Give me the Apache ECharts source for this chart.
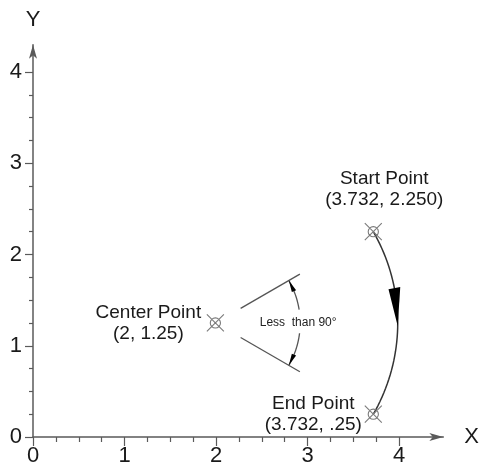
<!DOCTYPE html>
<html>
<head>
<meta charset="utf-8">
<script src="https://cdn.jsdelivr.net/npm/echarts@6/dist/echarts.min.js"></script>
<style>
  html, body { margin: 0; padding: 0; background: #fff; }
  #chart { width: 482px; height: 467px; }
</style>
</head>
<body>
<div id="chart"></div>
<script>
// points shown on the drawing
const pointNames = ["Start Point", "End Point", "Center Point"];
const pointX = [3.732, 3.732, 2];
const pointY = [2.25, 0.25, 1.25];
const pointText = ["(3.732, 2.250)", "(3.732, .25)", "(2, 1.25)"];

// arc: center x, center y, radius, from angle, to angle, arrow from, arrow to (degrees)
const arcRows = [[2, 1.25, 2, 30, -30, 11, -1]];

// angle dimension: center x, center y, ray start r, ray end r, dim r, ray angle, gap angle
const angleRows = [
  [2, 1.25, 0.32, 1.07, 0.93, 30, 9],
  [2, 1.25, 0.32, 1.07, 0.93, -30, -7]
];
const angleNote = "Less  than 90°";

// axis ranges
const xTickMax = 4, yTickMax = 4;
const xLineMax = 4.5, yLineMax = 4.3;

const PX = 91.5, PY = 91.25; // px per unit
const ox = 33, oy = 437;     // origin in px

const FONT = "Liberation Sans, Arial, sans-serif";
const AXIS_C = "#5a5a5a";
const TEXT_C = "#1a1a1a";

const chart = echarts.init(document.getElementById("chart"));

function rad(d) { return d * Math.PI / 180; }
function onArc(c, s, r, a) {
  return [c[0] + s[0] * r * Math.cos(rad(a)), c[1] - s[1] * r * Math.sin(rad(a))];
}
function arcPoints(c, s, r, a0, a1) {
  const pts = [];
  const n = 40;
  for (let i = 0; i <= n; i++) pts.push(onArc(c, s, r, a0 + (a1 - a0) * i / n));
  return pts;
}
// px per 1 data unit in both directions
function unit(api) { return api.size([1, 1]); }

const markerPath = "path://M0,0L20,20M20,0L0,20M16,10A6,6,0,1,1,4,10A6,6,0,1,1,16,10Z";

const labelOffsets = {
  "Start Point": [11, -42],
  "End Point": [-60, 0],
  "Center Point": [-67, 0]
};

const lineAxisCommon = {
  axisTick: { show: false },
  axisLabel: { show: false },
  splitLine: { show: false },
  axisLine: {
    show: true,
    symbol: ["none", "arrow"],
    symbolSize: [6, 14],
    lineStyle: { color: AXIS_C, width: 1.5 }
  },
  nameTextStyle: { fontSize: 22, color: TEXT_C, fontFamily: FONT }
};

const tickAxisCommon = {
  axisLine: { show: false },
  splitLine: { show: false },
  axisLabel: { fontSize: 22, color: TEXT_C, fontFamily: FONT },
  axisTick: { length: 9, lineStyle: { color: AXIS_C, width: 1.2 } },
  minorTick: { show: true, splitNumber: 4, length: 5, lineStyle: { color: AXIS_C, width: 1.2 } }
};

chart.setOption({
  animation: false,
  backgroundColor: "#fff",
  grid: [
    { left: ox, top: oy - yLineMax * PY, width: xLineMax * PX, height: yLineMax * PY },
    { left: ox, top: oy - yTickMax * PY, width: xTickMax * PX, height: yTickMax * PY }
  ],
  xAxis: [
    Object.assign({}, lineAxisCommon, {
      type: "value", gridIndex: 0, min: 0, max: xLineMax,
      name: "X", nameLocation: "end", nameGap: 21
    }),
    Object.assign({}, tickAxisCommon, {
      type: "value", gridIndex: 1, min: 0, max: xTickMax, interval: 1,
      axisLabel: Object.assign({}, tickAxisCommon.axisLabel, { margin: 8 })
    })
  ],
  yAxis: [
    Object.assign({}, lineAxisCommon, {
      type: "value", gridIndex: 0, min: 0, max: yLineMax,
      name: "Y", nameLocation: "end", nameGap: 14
    }),
    Object.assign({}, tickAxisCommon, {
      type: "value", gridIndex: 1, min: 0, max: yTickMax, interval: 1,
      axisTick: Object.assign({}, tickAxisCommon.axisTick, { length: 8 }),
      minorTick: Object.assign({}, tickAxisCommon.minorTick, { length: 4 }),
      axisLabel: Object.assign({}, tickAxisCommon.axisLabel, { margin: 11 })
    })
  ],
  series: [
    {
      // the arc with its direction arrow
      type: "custom",
      xAxisIndex: 0, yAxisIndex: 0,
      data: arcRows,
      renderItem: function (params, api) {
        const c = api.coord([api.value(0), api.value(1)]);
        const s = unit(api);
        const r = api.value(2);
        const aFrom = api.value(5), aTo = api.value(6);
        const base = onArc(c, s, r, aFrom);
        const dir = [Math.cos(rad(aFrom)), -Math.sin(rad(aFrom))];
        const half = 6;
        return {
          type: "group",
          children: [
            {
              type: "polyline",
              shape: { points: arcPoints(c, s, r, api.value(3), api.value(4)) },
              style: { stroke: "#333", lineWidth: 1.5, fill: null }
            },
            {
              type: "polygon",
              shape: {
                points: [
                  [base[0] - dir[0] * half, base[1] - dir[1] * half],
                  [base[0] + dir[0] * half, base[1] + dir[1] * half],
                  onArc(c, s, r, aTo)
                ]
              },
              style: { fill: "#000" }
            }
          ]
        };
      }
    },
    {
      // angle dimension rays, arcs and arrowheads
      type: "custom",
      xAxisIndex: 0, yAxisIndex: 0,
      data: angleRows,
      renderItem: function (params, api) {
        const c = api.coord([api.value(0), api.value(1)]);
        const s = unit(api);
        const r0 = api.value(2), r1 = api.value(3), rd = api.value(4);
        const a = api.value(5), gap = api.value(6);
        const sign = a > 0 ? 1 : -1;
        const tip = onArc(c, s, rd, a);
        const baseA = a - sign * 8;
        const base = onArc(c, s, rd, baseA);
        const dir = [Math.cos(rad(baseA)), -Math.sin(rad(baseA))];
        const half = 2.3;
        const p0 = onArc(c, s, r0, a), p1 = onArc(c, s, r1, a);
        const children = [
          {
            type: "line",
            shape: { x1: p0[0], y1: p0[1], x2: p1[0], y2: p1[1] },
            style: { stroke: "#555", lineWidth: 1.3 }
          },
          {
            type: "polyline",
            shape: { points: arcPoints(c, s, rd, a, gap) },
            style: { stroke: "#555", lineWidth: 1.3, fill: null }
          },
          {
            type: "polygon",
            shape: {
              points: [
                [base[0] - dir[0] * half, base[1] - dir[1] * half],
                [base[0] + dir[0] * half, base[1] + dir[1] * half],
                tip
              ]
            },
            style: { fill: "#000" }
          }
        ];
        if (params.dataIndex === 0) {
          const mid = onArc(c, s, rd, 0);
          children.push({
            type: "text",
            x: mid[0] - 2, y: mid[1],
            style: {
              text: angleNote, fill: "#222", fontSize: 12, fontFamily: FONT,
              align: "center", verticalAlign: "middle"
            }
          });
        }
        return { type: "group", children: children };
      }
    },
    {
      // point markers and their captions
      type: "scatter",
      xAxisIndex: 0, yAxisIndex: 0,
      symbol: markerPath,
      symbolSize: 17,
      itemStyle: { color: "transparent", borderColor: "#7a7a7a", borderWidth: 1.1, opacity: 1 },
      z: 5,
      data: pointNames.map(function (n, i) {
        return {
          name: n,
          value: [pointX[i], pointY[i]],
          label: {
            show: true,
            position: "inside",
            offset: labelOffsets[n],
            align: "center",
            formatter: n + "\n" + pointText[i],
            fontSize: 19,
            lineHeight: 21,
            color: TEXT_C,
            fontFamily: FONT
          }
        };
      })
    }
  ]
});
</script>
</body>
</html>
